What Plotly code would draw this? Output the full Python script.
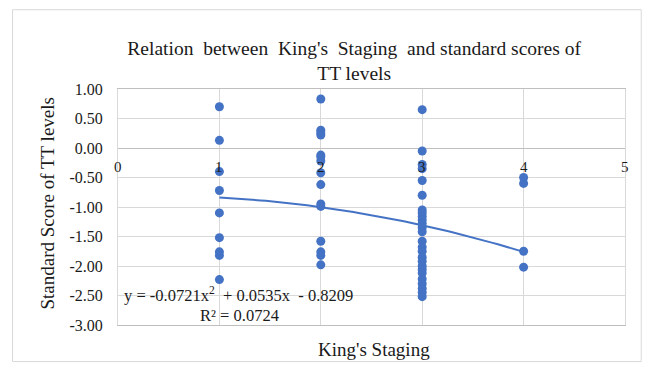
import numpy as np
import plotly.graph_objects as go

# Data
stage_1 = [0.70, 0.13, -0.40, -0.72, -1.10, -1.52, -1.76, -1.82, -2.23]
stage_2 = [0.83, 0.30, 0.26, 0.22, -0.12, -0.15, -0.22, -0.42, -0.62, -0.95, -0.99,
           -1.58, -1.76, -1.82, -1.98]
stage_3 = [0.65, -0.05, -0.28, -0.35, -0.55, -0.80, -1.05, -1.10, -1.16, -1.22, -1.28,
           -1.35, -1.42, -1.58, -1.68, -1.75, -1.85, -1.92, -2.00, -2.06, -2.12, -2.22,
           -2.30, -2.38, -2.45, -2.52]
stage_4 = [-0.50, -0.60, -1.75, -2.02]

stages = [1, 2, 3, 4]
groups = [stage_1, stage_2, stage_3, stage_4]

# trendline coefficients (Excel polynomial, order 2)
coef_a, coef_b, coef_c = -0.0721, 0.0535, -0.8209
r_squared = 0.0724

y_tickvals = [1.0, 0.5, 0.0, -0.5, -1.0, -1.5, -2.0, -2.5, -3.0]
y_ticktext = ["1.00", "0.50", "0.00", "-0.50", "-1.00", "-1.50", "-2.00", "-2.50", "-3.00"]
x_ticklabels = ["0", "1", "2", "3", "4", "5"]

xs, ys = [], []
for s, g in zip(stages, groups):
    xs += [s] * len(g)
    ys += g

blue = "#4472C4"
serif = "Liberation Serif, Times New Roman, serif"
txt = "#1a1a1a"

fig = go.Figure()
tx = np.linspace(1, 4, 60)
fig.add_trace(go.Scatter(x=tx, y=coef_a * tx**2 + coef_b * tx + coef_c, mode="lines",
                         line=dict(color=blue, width=2), hoverinfo="skip"))
fig.add_trace(go.Scatter(x=xs, y=ys, mode="markers",
                         marker=dict(color=blue, size=9)))

annotations = []
for i, t in enumerate(x_ticklabels):
    annotations.append(dict(x=i, y=0, xref="x", yref="y", text=t, showarrow=False,
                            yshift=-19, font=dict(family=serif, size=15, color=txt)))
annotations.append(dict(x=-0.163, y=0.514, xref="paper", yref="paper",
                        text="Standard Score of TT levels", textangle=-90,
                        showarrow=False, font=dict(family=serif, size=19, color=txt)))
annotations.append(dict(x=0.505, y=-0.105, xref="paper", yref="paper", yanchor="middle",
                        text="King's Staging", showarrow=False,
                        font=dict(family=serif, size=19, color=txt)))
annotations.append(dict(x=0.04, y=-2.486, xref="x", yref="y", xanchor="left",
                        text=f"y = {coef_a}x<sup>2</sup>  + {coef_b}x  - {abs(coef_c)}",
                        showarrow=False, font=dict(family=serif, size=16.5, color=txt)))
annotations.append(dict(x=1.2, y=-2.84, xref="x", yref="y", xanchor="center",
                        text=f"R² = {r_squared}",
                        showarrow=False, font=dict(family=serif, size=16.5, color=txt)))

fig.update_layout(
    width=647, height=362,
    margin=dict(l=110, r=30, t=81, b=45),
    paper_bgcolor="white", plot_bgcolor="white",
    showlegend=False,
    title=dict(text="Relation  between  King's  Staging  and standard scores of<br>TT levels",
               xref="container", x=0.535, xanchor="center",
               yref="container", y=1 - 47 / 362, yanchor="middle",
               font=dict(family=serif, size=19.5, color=txt)),
    xaxis=dict(range=[0, 5], tickvals=[1, 2, 3, 4, 5], showticklabels=False,
               showgrid=True, gridcolor="#d9d9d9", gridwidth=1, zeroline=False,
               showline=True, linecolor="#bfbfbf", mirror=True, ticks=""),
    yaxis=dict(range=[-3, 1], tickvals=y_tickvals, ticktext=y_ticktext,
               showgrid=True, gridcolor="#d9d9d9", zeroline=True, zerolinecolor="#bfbfbf",
               zerolinewidth=1, showline=True, linecolor="#d9d9d9", mirror=True,
               ticks="", ticklabelstandoff=11,
               tickfont=dict(family=serif, size=16, color=txt)),
    annotations=annotations,
    shapes=[dict(type="rect", xref="paper", yref="paper",
                 x0=-0.208, x1=1.032, y0=-0.155, y1=1.336,
                 line=dict(color="#d9d9d9", width=1), fillcolor="rgba(0,0,0,0)")],
)

fig.write_html("out.html")
